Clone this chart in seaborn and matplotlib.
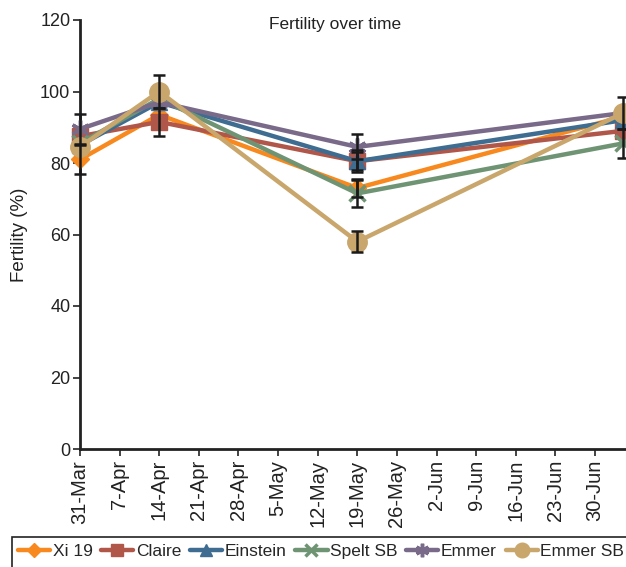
import matplotlib
matplotlib.use("Agg")
import matplotlib.pyplot as plt
from matplotlib.patches import Rectangle
import seaborn as sns
import pandas as pd
import numpy as np

sns.set_style("white")
plt.rcParams['font.family'] = ["Liberation Sans", 'DejaVu Sans']

# ---- data ----
days = [0, 14, 49, 96]            # days after 31-Mar
varieties = ["Xi 19", "Claire", "Einstein", "Spelt SB", "Emmer", "Emmer SB"]
xi19 = [81, 93.5, 73, 93]
claire = [87.5, 91.5, 80.5, 89]
einstein = [85, 97, 80.5, 92]
spelt = [85.5, 98, 71.5, 85.5]
emmer = [89.5, 97, 84.5, 94]
emmer_sb = [84.5, 100, 58, 94]
err_xi19 = [4, 0, 2.5, 0]
err_claire = [0, 4, 2.5, 0]
err_einstein = [0, 0, 3, 0]
err_spelt = [0, 0, 3.7, 4]
err_emmer = [4.2, 0, 3.5, 4.5]
err_emmer_sb = [0, 4.5, 3, 0]
tick_days = list(range(0, 92, 7))
tick_labels = ["31-Mar", "7-Apr", "14-Apr", "21-Apr", "28-Apr", "5-May", "12-May",
               "19-May", "26-May", "2-Jun", "9-Jun", "16-Jun", "23-Jun", "30-Jun"]

series = [xi19, claire, einstein, spelt, emmer, emmer_sb]
errs = [err_xi19, err_claire, err_einstein, err_spelt, err_emmer, err_emmer_sb]
colors = ["#F7891E", "#B0574A", "#3F6C91", "#6F9474", "#7A6A8A", "#C9A66B"]
markers = ["D", "s", "^", "x", (6, 2, 0), "o"]
msizes = [9, 12, 11, 11, 13, 14]

rows = []
for v, vals in zip(varieties, series):
    for d, val in zip(days, vals):
        rows.append({"day": d, "fert": val, "variety": v})
df = pd.DataFrame(rows)

W, H = 626, 567
fig = plt.figure(figsize=(W / 100, H / 100), dpi=100)
x0, x1 = 80, 660
y0, y1 = 449, 20
ax = fig.add_axes([x0 / W, 1 - y0 / H, (x1 - x0) / W, (y0 - y1) / H])

for v, c, m, ms in zip(varieties, colors, markers, msizes):
    sub = df[df.variety == v]
    sns.lineplot(data=sub, x="day", y="fert", ax=ax, color=c, lw=3.2,
                 marker=m, markersize=ms, markeredgecolor=c,
                 markeredgewidth=2.5 if (m == "x" or isinstance(m, tuple)) else 1,
                 label=v, clip_on=False, zorder=3)

for vals, e in zip(series, errs):
    idx = [i for i, ev in enumerate(e) if ev > 0]
    ax.errorbar([days[i] for i in idx], [vals[i] for i in idx], yerr=[e[i] for i in idx],
                fmt="none", ecolor="#1a1a1a", elinewidth=1.8,
                capsize=4.5, capthick=1.8, zorder=5, clip_on=False)

ax.set_xlim(0, (x1 - x0) / 5.66)
ax.set_ylim(0, 120)
ax.set_yticks([0, 20, 40, 60, 80, 100, 120])
ax.set_xticks(tick_days)
ax.set_xticklabels(tick_labels, rotation=90, fontsize=14.5)
ax.tick_params(axis="y", labelsize=13, length=5, width=1.2, direction="out", left=True, pad=2, colors="#222222")
ax.tick_params(axis="x", length=5, width=1.2, direction="out", bottom=True, pad=3, colors="#222222")
for s in ["top", "right"]:
    ax.spines[s].set_visible(False)
for s in ["left", "bottom"]:
    ax.spines[s].set_color("#222222")
    ax.spines[s].set_linewidth(2)
ax.set_xlabel("")
ax.set_ylabel("")
fig.text(20 / W, 1 - 235 / H, "Fertility (%)", rotation=90, ha="center", va="center",
         fontsize=13.5, color="#222222")
fig.text(335 / W, 1 - 24 / H, "Fertility over time", ha="center", va="center",
         fontsize=12.5, color="#222222")

ax.legend_.remove()
handles, labels = ax.get_legend_handles_labels()
leg = fig.legend(handles[:6], labels[:6], loc="upper left", bbox_to_anchor=(12 / W, 1 - 538 / H),
                 ncol=6, frameon=False, fontsize=12.5, handlelength=1.85, markerscale=0.75,
                 handletextpad=0.15, columnspacing=0.5, borderpad=0.35, borderaxespad=0)
fig.patches.append(Rectangle((12 / W, -0.05), 1.0, 0.05 + (1 - 537 / H), transform=fig.transFigure,
                             fill=False, edgecolor="#222222", linewidth=1.2))

fig.savefig("out.png", dpi=100)
